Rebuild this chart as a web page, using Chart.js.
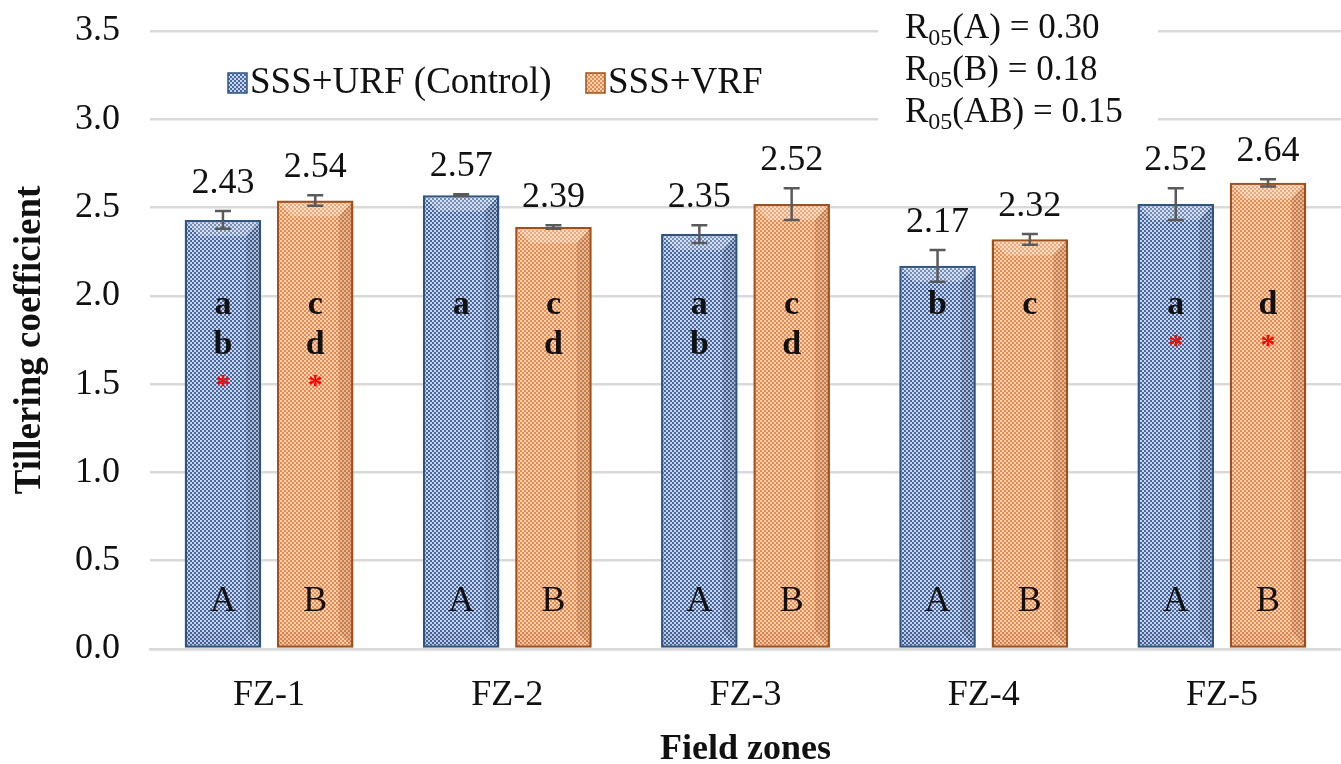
<!DOCTYPE html>
<html>
<head>
<meta charset="utf-8">
<script src="https://cdn.jsdelivr.net/npm/chart.js@4"></script>
<style>
  html, body { margin: 0; padding: 0; background: #fff; overflow: hidden; }
  #wrap { width: 1341px; height: 764px; }
</style>
</head>
<body>
<div id="wrap"><canvas id="chart" width="1341" height="764"></canvas></div>
<script>
// Data
const zones = ['FZ-1', 'FZ-2', 'FZ-3', 'FZ-4', 'FZ-5'];
const urfValues = [2.43, 2.57, 2.35, 2.17, 2.52];
const vrfValues = [2.54, 2.39, 2.52, 2.32, 2.64];
const urfErrors = [0.05, 0.005, 0.05, 0.09, 0.09];
const vrfErrors = [0.03, 0.01, 0.09, 0.03, 0.02];
const urfLetters = [['a', 'b'], ['a'], ['a', 'b'], ['b'], ['a']];
const vrfLetters = [['c', 'd'], ['c', 'd'], ['c', 'd'], ['c'], ['d']];
const urfStars = [true, false, false, false, true];
const vrfStars = [true, false, false, false, true];
const groupLetters = ['A', 'B'];
const yTicks = [0, 0.5, 1.0, 1.5, 2.0, 2.5, 3.0, 3.5];
const lsdLines = [['A', '0.30'], ['B', '0.18'], ['AB', '0.15']];

const serif = "'Liberation Serif', 'Times New Roman', serif";

// dotted fill like the Excel pattern
function makePattern(base, dot) {
    const c = document.createElement('canvas');
    c.width = 4; c.height = 4;
    const g = c.getContext('2d');
    g.fillStyle = base;
    g.fillRect(0, 0, 4, 4);
    g.fillStyle = dot;
    g.fillRect(0, 0, 2, 2);
    g.fillRect(2, 2, 2, 2);
    return g.createPattern(c, 'repeat');
}
const ctx = document.getElementById('chart').getContext('2d');
const bluePattern = makePattern('#46679f', '#c9d6ee');
const orangePattern = makePattern('#eb8a4c', '#fcd3b4');

// bevel overlay, error bars, letters
const decorPlugin = {
    id: 'decor',
    afterDatasetsDraw(chart) {
        const c = chart.ctx;
        const y = chart.scales.y;
        const errs = [urfErrors, vrfErrors];
        const letters = [urfLetters, vrfLetters];
        const stars = [urfStars, vrfStars];
        chart.data.datasets.forEach((ds, di) => {
            chart.getDatasetMeta(di).data.forEach((bar, i) => {
                const left = bar.x - bar.width / 2;
                const right = bar.x + bar.width / 2;
                // bevel: lighter top, darker right side
                c.save();
                c.fillStyle = 'rgba(255,255,255,0.25)';
                c.beginPath();
                c.moveTo(left + 2, bar.y + 2);
                c.lineTo(right - 2, bar.y + 2);
                c.lineTo(right - 15, bar.y + 16);
                c.lineTo(left + 15, bar.y + 16);
                c.closePath();
                c.fill();
                c.fillStyle = 'rgba(0,0,0,0.12)';
                c.beginPath();
                c.moveTo(right - 2, bar.y + 2);
                c.lineTo(right - 15, bar.y + 16);
                c.lineTo(right - 15, bar.base - 16);
                c.lineTo(right - 2, bar.base - 2);
                c.closePath();
                c.fill();
                c.fillStyle = 'rgba(0,0,0,0.06)';
                c.fillRect(left + 2, bar.base - 16, bar.width - 17, 14);
                c.restore();

                // error bar
                const v = ds.data[i];
                const e = errs[di][i];
                const yTop = y.getPixelForValue(v + e);
                const yBot = y.getPixelForValue(v - e);
                c.save();
                c.strokeStyle = '#5a5a5a';
                c.lineWidth = 2.5;
                c.beginPath();
                c.moveTo(bar.x, yTop); c.lineTo(bar.x, yBot);
                c.moveTo(bar.x - 8, yTop); c.lineTo(bar.x + 8, yTop);
                c.moveTo(bar.x - 8, yBot); c.lineTo(bar.x + 8, yBot);
                c.stroke();
                c.restore();

                // value label
                c.save();
                c.fillStyle = '#111';
                c.font = '36px ' + serif;
                c.textAlign = 'center';
                c.textBaseline = 'alphabetic';
                c.fillText(v.toFixed(2), bar.x, yTop - 18);

                // significance letters
                c.font = 'bold 34px ' + serif;
                let ly = y.getPixelForValue(1.9);
                letters[di][i].forEach(l => {
                    c.fillText(l, bar.x, ly);
                    ly += 40;
                });
                if (stars[di][i]) {
                    c.fillStyle = '#ff0000';
                    c.font = 'bold 30px ' + serif;
                    c.fillText('*', bar.x, ly);
                }

                // group letter near base
                c.fillStyle = '#111';
                c.font = '36px ' + serif;
                c.fillText(groupLetters[di], bar.x, bar.base - 37);
                c.restore();
            });
        });
    },
    afterDraw(chart) {
        const c = chart.ctx;
        // legend inside plot
        const items = [
            { x: 228, fill: bluePattern, border: '#2e5480', text: chart.data.datasets[0].label },
            { x: 586, fill: orangePattern, border: '#a0501a', text: chart.data.datasets[1].label }
        ];
        c.save();
        c.font = '37px ' + serif;
        c.textBaseline = 'middle';
        items.forEach(it => {
            c.fillStyle = it.fill;
            c.fillRect(it.x, 73, 19, 20);
            c.strokeStyle = it.border;
            c.lineWidth = 1.5;
            c.strokeRect(it.x, 73, 19, 20);
            c.fillStyle = '#111';
            c.fillText(it.text, it.x + 22, 83);
        });
        // LSD box
        c.fillStyle = '#fff';
        c.fillRect(878, 0, 280, 134);
        c.fillStyle = '#111';
        c.textBaseline = 'alphabetic';
        lsdLines.forEach((ln, k) => {
            const by = 38 + k * 42;
            let x = 905;
            c.font = '35px ' + serif;
            c.fillText('R', x, by);
            x += c.measureText('R').width;
            c.font = '24px ' + serif;
            c.fillText('05', x, by + 7);
            x += c.measureText('05').width;
            c.font = '35px ' + serif;
            c.fillText('(' + ln[0] + ') = ' + ln[1], x, by);
        });
        c.restore();
    }
};

new Chart(ctx, {
    type: 'bar',
    data: {
        labels: zones,
        datasets: [
            {
                label: 'SSS+URF (Control)',
                data: urfValues,
                backgroundColor: bluePattern,
                borderColor: '#2e5480',
                borderWidth: 2.5,
                borderSkipped: false
            },
            {
                label: 'SSS+VRF',
                data: vrfValues,
                backgroundColor: orangePattern,
                borderColor: '#a0501a',
                borderWidth: 2.5,
                borderSkipped: false
            }
        ]
    },
    options: {
        responsive: false,
        animation: false,
        categoryPercentage: 0.775,
        barPercentage: 0.83,
        layout: { padding: { top: 31, right: 0, left: 8, bottom: 0 } },
        plugins: {
            legend: { display: false },
            tooltip: { enabled: false }
        },
        scales: {
            x: {
                afterFit(axis) { axis.height = 115; },
                grid: { display: false },
                border: { color: '#d9d9d9', width: 2.5 },
                ticks: { color: '#111', font: { family: serif, size: 36 }, padding: 17 },
                title: {
                    display: true, text: 'Field zones', color: '#111',
                    font: { family: serif, size: 36, weight: 'bold', lineHeight: 1 },
                    padding: { top: 0, bottom: -4 }
                }
            },
            y: {
                min: 0, max: 3.5,
                afterBuildTicks(axis) { axis.ticks = yTicks.map(v => ({ value: v })); },
                afterFit(axis) {
                    axis.width = 142;
                    axis.paddingTop = 0;
                    axis.paddingBottom = 0;
                },
                grid: { color: '#d9d9d9', lineWidth: 2.5, drawTicks: false },
                border: { display: false },
                ticks: {
                    color: '#111', padding: 30,
                    font: { family: serif, size: 36 },
                    callback: v => Number(v).toFixed(1)
                },
                title: {
                    display: true, text: 'Tillering coefficient', color: '#111',
                    font: { family: serif, size: 37, weight: 'bold' },
                    padding: { top: 0, bottom: 0 }
                }
            }
        }
    },
    plugins: [decorPlugin]
});
</script>
</body>
</html>
